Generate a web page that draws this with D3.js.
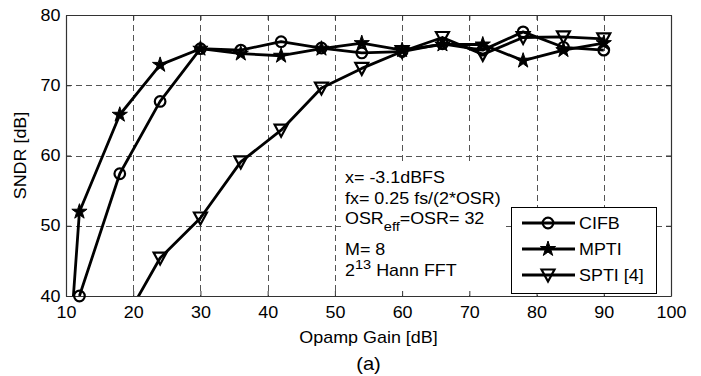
<!DOCTYPE html>
<html>
<head>
<meta charset="utf-8">
<script src="https://cdn.jsdelivr.net/npm/d3@7"></script>
<style>
  body { margin: 0; background: #fff; }
  text { font-family: "Liberation Sans", Arial, sans-serif; fill: #000; }
</style>
</head>
<body>
<div id="chart"></div>
<script>
// data
var gain = [12, 18, 24, 30, 36, 42, 48, 54, 60, 66, 72, 78, 84, 90];
var cifb = [40, 57.4, 67.7, 75.2, 75.0, 76.2, 75.3, 74.6, 74.8, 75.9, 75.0, 77.6, 75.4, 75.0];
var mptiGain = [10.5, 12, 18, 24, 30, 36, 42, 48, 54, 60, 66, 72, 78, 84, 90];
var mpti = [32, 52, 65.8, 72.9, 75.2, 74.5, 74.2, 75.2, 76.0, 75.0, 75.8, 75.8, 73.5, 75.0, 76.0];
var sptiGain = [18, 24, 30, 36, 42, 48, 54, 60, 66, 72, 78, 84, 90];
var spti = [35.3, 45.4, 51.1, 59.1, 63.6, 69.6, 72.4, 74.8, 76.8, 74.4, 76.8, 76.9, 76.6];
var xTicks = [10, 20, 30, 40, 50, 60, 70, 80, 90, 100];
var yTicks = [40, 50, 60, 70, 80];
var seriesNames = ["CIFB", "MPTI", "SPTI [4]"];

var width = 701, height = 376;
var plotL = 66, plotR = 671, plotT = 15, plotB = 296;
var stretch = "scale(1.12,1)";

var svg = d3.select("#chart").append("svg")
  .attr("width", width)
  .attr("height", height);

var x = d3.scaleLinear().domain([10, 100]).range([plotL, plotR]);
var y = d3.scaleLinear().domain([40, 80]).range([plotB, plotT]);

svg.append("defs").append("clipPath").attr("id", "plotclip")
  .append("rect")
  .attr("x", plotL).attr("y", plotT)
  .attr("width", plotR - plotL).attr("height", plotB - plotT);

// grid
var grid = svg.append("g").attr("stroke", "#555").attr("stroke-width", 1)
  .attr("stroke-dasharray", "6,4");
grid.selectAll(".gx").data(xTicks.slice(1, -1)).enter().append("line")
  .attr("x1", d => Math.round(x(d)) + 0.5).attr("x2", d => Math.round(x(d)) + 0.5)
  .attr("y1", plotT).attr("y2", plotB);
grid.selectAll(".gy").data(yTicks.slice(1, -1)).enter().append("line")
  .attr("y1", d => Math.round(y(d)) + 0.5).attr("y2", d => Math.round(y(d)) + 0.5)
  .attr("x1", plotL).attr("x2", plotR);

// white box behind the annotation text
svg.append("rect")
  .attr("x", 341).attr("y", 163).attr("width", 163).attr("height", 130)
  .attr("fill", "#fff");

// axes with inward ticks
var xAxis = svg.append("g")
  .attr("transform", `translate(0, ${plotB})`)
  .call(d3.axisBottom(x).tickValues(xTicks).tickSize(-5).tickPadding(11).tickSizeOuter(0));
svg.append("g")
  .attr("transform", `translate(0, ${plotT})`)
  .call(d3.axisTop(x).tickValues(xTicks).tickSize(-5).tickFormat("").tickSizeOuter(0));
var yAxis = svg.append("g")
  .attr("transform", `translate(${plotL}, 0)`)
  .call(d3.axisLeft(y).tickValues(yTicks).tickSize(-5).tickPadding(5).tickSizeOuter(0));
svg.append("g")
  .attr("transform", `translate(${plotR}, 0)`)
  .call(d3.axisRight(y).tickValues(yTicks).tickSize(-5).tickFormat("").tickSizeOuter(0));

svg.selectAll(".domain").attr("stroke", "#333").attr("stroke-width", 1.2);
svg.selectAll(".tick line").attr("stroke", "#333");
[xAxis, yAxis].forEach(function(a) {
  a.selectAll("text")
    .attr("font-size", 16)
    .attr("font-family", "Liberation Sans, Arial, sans-serif")
    .attr("fill", "#000")
    .attr("transform", stretch);
});

// text helper
function label(str, px, py, size, anchor) {
  return svg.append("text")
    .attr("transform", `translate(${px},${py}) ${stretch}`)
    .attr("text-anchor", anchor || "start")
    .attr("font-size", size)
    .text(str);
}
label("Opamp Gain [dB]", (plotL + plotR) / 2, 343, 16, "middle");
label("(a)", (plotL + plotR) / 2, 370, 18, "middle");
svg.append("text")
  .attr("transform", `translate(26, ${(plotT + plotB) / 2}) rotate(-90) scale(1.12,1)`)
  .attr("text-anchor", "middle")
  .attr("font-size", 16)
  .text("SNDR [dB]");

// marker shapes
function starPath(R) {
  var r = R * 0.382, pts = [];
  for (var i = 0; i < 10; i++) {
    var a = -Math.PI / 2 + i * Math.PI / 5, rr = i % 2 ? r : R;
    pts.push([rr * Math.cos(a), rr * Math.sin(a)]);
  }
  return "M" + pts.map(p => p.join(",")).join("L") + "Z";
}
var triPath = "M-6.5,-5.5L6.5,-5.5L0,6.5Z";

function drawMarker(g, kind, cx, cy) {
  if (kind === "circle") {
    g.append("circle").attr("cx", cx).attr("cy", cy).attr("r", 5.3)
      .attr("fill", "none").attr("stroke", "#000").attr("stroke-width", 2.2);
  } else if (kind === "star") {
    g.append("path").attr("d", starPath(8)).attr("transform", `translate(${cx},${cy})`)
      .attr("fill", "#000").attr("stroke", "#000").attr("stroke-width", 1);
  } else {
    g.append("path").attr("d", triPath).attr("transform", `translate(${cx},${cy})`)
      .attr("fill", "none").attr("stroke", "#000").attr("stroke-width", 2.2);
  }
}

var line = d3.line().x(d => x(d[0])).y(d => y(d[1]));
var series = [
  { xs: gain, ys: cifb, kind: "circle" },
  { xs: mptiGain, ys: mpti, kind: "star" },
  { xs: sptiGain, ys: spti, kind: "tri" }
];

series.forEach(function(s) {
  var pts = s.xs.map((g, i) => [g, s.ys[i]]);
  svg.append("path")
    .attr("clip-path", "url(#plotclip)")
    .attr("d", line(pts))
    .attr("fill", "none").attr("stroke", "#000").attr("stroke-width", 2.8)
    .attr("stroke-linejoin", "round");
  var mg = svg.append("g");
  pts.filter(p => p[1] >= 40).forEach(p => drawMarker(mg, s.kind, x(p[0]), y(p[1])));
});

// annotation text
label("x= -3.1dBFS", 345, 183, 16);
label("fx= 0.25 fs/(2*OSR)", 345, 204, 16);
var osr = label("", 345, 224, 16);
osr.append("tspan").text("OSR");
osr.append("tspan").attr("font-size", 13).attr("dy", 7).text("eff");
osr.append("tspan").attr("dy", -7).text("=OSR= 32");
label("M= 8", 345, 255, 16);
var fft = label("", 345, 276, 16);
fft.append("tspan").text("2");
fft.append("tspan").attr("font-size", 13).attr("dy", -7).text("13");
fft.append("tspan").attr("dy", 7).text(" Hann FFT");

// legend
var lg = svg.append("g");
lg.append("rect").attr("x", 511.5).attr("y", 207.5).attr("width", 145).attr("height", 86)
  .attr("fill", "#fff").attr("stroke", "#000").attr("stroke-width", 1);
var legendY = [223, 249, 275];
series.forEach(function(s, i) {
  lg.append("line").attr("x1", 522).attr("x2", 575)
    .attr("y1", legendY[i]).attr("y2", legendY[i])
    .attr("stroke", "#000").attr("stroke-width", 2.8);
  drawMarker(lg, s.kind, 548, legendY[i]);
  label(seriesNames[i], 579, legendY[i] + 6, 16);
});
</script>
</body>
</html>
